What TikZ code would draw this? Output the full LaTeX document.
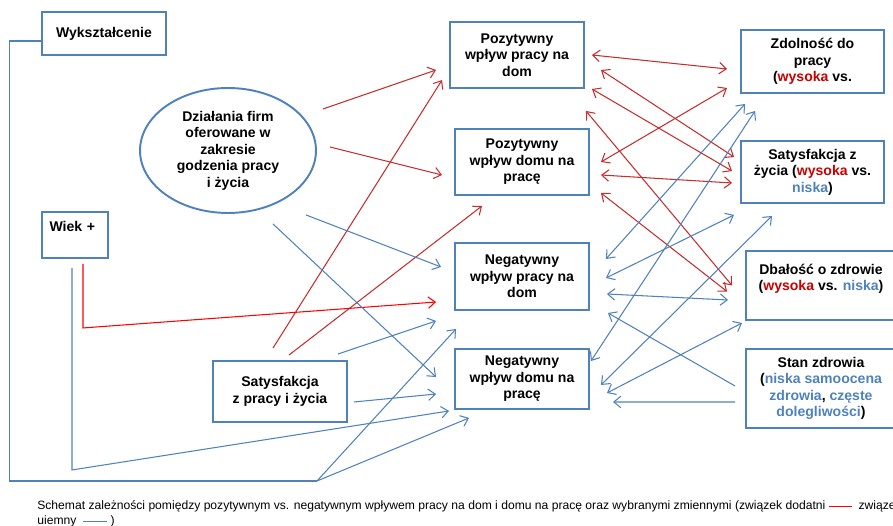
\documentclass[tikz,border=0pt]{standalone}
\usepackage{fontspec}
\setmainfont{Liberation Sans}
\usetikzlibrary{arrows.meta,calc,shapes.geometric}
\definecolor{ramkablue}{RGB}{79,129,189}
\definecolor{liniared}{RGB}{200,45,45}
\definecolor{wiekred}{RGB}{255,0,0}
\definecolor{tekstred}{RGB}{200,0,0}
\newcommand{\czerw}[1]{\textcolor{tekstred}{#1}}
\newcommand{\nieb}[1]{\textcolor{ramkablue}{#1}}
\tikzset{
  >={Straight Barb[length=4pt,width=6.5pt]},
  ramka/.style={draw=ramkablue, line width=1.1pt, align=center, inner sep=2pt,
    font=\fontsize{8}{9.4}\selectfont\bfseries},
  owal/.style={ramka, ellipse, inner sep=0pt},
  dodatni/.style={draw=liniared, line width=0.6pt, ->},
  ujemny/.style={draw=ramkablue, line width=0.6pt, ->},
  podpis/.style={align=left, inner sep=0pt, font=\fontsize{6.9}{8.5}\selectfont}
}

\begin{document}
\begin{tikzpicture}[x=0.02cm, y=-0.02cm]
\useasboundingbox (0,0) rectangle (893,526);
\node[ramka, minimum width=2.48cm, minimum height=0.86cm] (wyk) at (104,33.5) {Wykształcenie};
\node[ramka, minimum width=1.32cm, minimum height=0.92cm, text width=1.02cm, align=left] (wiek) at (75,235) {Wiek +\\~};
\node[owal, minimum width=3.52cm, minimum height=2.5cm] (ell) at (228,150.5) {Działania firm\\oferowane w\\zakresie\\godzenia pracy\\i życia};
\node[ramka, minimum width=2.68cm, minimum height=1.22cm] (sat) at (280,391.5) {Satysfakcja\\z pracy i życia};
\node[ramka, minimum width=2.68cm, minimum height=1.32cm] (ppd) at (517,55) {Pozytywny\\wpływ pracy na\\dom};
\node[ramka, minimum width=2.68cm, minimum height=1.32cm] (pdp) at (522,162) {Pozytywny\\wpływ domu na\\pracę};
\node[ramka, minimum width=2.68cm, minimum height=1.34cm] (npd) at (522,276.5) {Negatywny\\wpływ pracy na\\dom};
\node[ramka, minimum width=2.68cm, minimum height=1.2cm] (ndp) at (522,379) {Negatywny\\wpływ domu na\\pracę};
\node[ramka, minimum width=2.86cm, minimum height=1.26cm] (zd) at (812.5,61.5) {Zdolność do\\pracy\\(\czerw{wysoka} vs.};
\node[ramka, minimum width=2.86cm, minimum height=1.24cm] (sz) at (812.5,172) {Satysfakcja z\\życia (\czerw{wysoka} vs.\\\nieb{niska})};
\node[ramka, minimum width=3cm, minimum height=1.38cm] (dz) at (821,285.5) {Dbałość o zdrowie\\(\czerw{wysoka} vs. \nieb{niska})\\~};
\node[ramka, minimum width=3cm, minimum height=1.58cm] (stz) at (821,388.5) {Stan zdrowia\\(\nieb{niska samoocena}\\\nieb{zdrowia}, \nieb{częste}\\\nieb{dolegliwości})};
\coordinate (wezel) at (317,481);

% zwiazki dodatnie
\draw[dodatni] ($(ell.east)+(6,-41.5)$) -- ($(ppd.west)+(-13,15)$);
\draw[dodatni] ($(ell.east)+(13,-3.5)$) -- ($(pdp.west)+(-12,13)$);
\draw[dodatni] ($(sat.north)+(-7,-12)$) -- ($(ppd.west)+(-7,25)$);
\draw[dodatni] ($(sat.north)+(9,-5)$) -- ($(pdp.south)+(-40,10)$);
\draw[dodatni, draw=wiekred] ($(wiek.south)+(8,5)$) -- ++(0,64) -- ($(npd.west)+(-18,25.5)$);
\draw[dodatni, <->] ($(ppd.east)+(7,0)$) -- ($(zd.west)+(-13,7.5)$);
\draw[dodatni, <->] ($(ppd.east)+(16,15)$) -- ($(sz.west)+(-6,-15)$);
\draw[dodatni, <->] ($(ppd.east)+(7,34)$) -- ($(sz.west)+(-8,-1)$);
\draw[dodatni, <->] ($(ppd.south east)+(1,22)$) -- ($(dz.west)+(-13,0)$);
\draw[dodatni, <->] ($(pdp.east)+(11,31)$) -- ($(dz.west)+(-18,6)$);
\draw[dodatni, <->] ($(pdp.east)+(11,13)$) -- ($(sz.west)+(-8,11)$);
\draw[dodatni, <->] ($(pdp.east)+(11,0)$) -- ($(zd.west)+(-13,26.5)$);

% zwiazki ujemne
\draw[ujemny] ($(ell.south)+(78,1)$) -- ($(npd.west)+(-13,-9.5)$);
\draw[ujemny] ($(ell.south)+(45,10)$) -- ($(ndp.west)+(-18,-2)$);
\draw[ujemny] ($(sat.north east)+(-10,-6)$) -- ($(npd.south west)+(-18,10)$);
\draw[ujemny] ($(sat.east)+(6,10.5)$) -- ($(ndp.west)+(-18,15)$);
\draw[ujemny] ($(wiek.south)+(-3,9)$) -- ++(0,202) -- ($(ndp.south west)+(-5,1)$);
\draw[ujemny, -] ($(wyk.west)+(0,7.5)$) -- ++(-32,0) |- (wezel);
\draw[ujemny] (wezel) -- ($(npd.south west)+(2,18)$);
\draw[ujemny] (wezel) -- ($(ndp.south west)+(15,8)$);
\draw[ujemny, <->] ($(npd.east)+(16,-17.5)$) -- ($(zd.south west)+(5,10)$);
\draw[ujemny, <->] ($(npd.east)+(16,1.5)$) -- ($(sz.south west)+(-6,11)$);
\draw[ujemny, <->] ($(npd.east)+(17,17.5)$) -- ($(dz.west)+(-17,14.5)$);
\draw[ujemny] ($(stz.west)+(-10,-2.5)$) -- ($(npd.south east)+(18,2)$);
\draw[ujemny, <->] ($(ndp.north east)+(1,13)$) -- ($(zd.south west)+(15,17)$);
\draw[ujemny, <->] ($(ndp.east)+(11,6)$) -- ($(sz.south west)+(32,12)$);
\draw[ujemny, <->] ($(ndp.east)+(17,14)$) -- ($(dz.south west)+(-3,2)$);
\draw[ujemny] ($(stz.west)+(-10,13.5)$) -- ($(ndp.east)+(23,23)$);

\node[podpis, anchor=north west] (opis) at (37,500) {Schemat zależności pomiędzy pozytywnym vs. negatywnym wpływem pracy na dom i domu na pracę oraz wybranymi zmiennymi (związek dodatni \textcolor{wiekred}{\rule[0.3ex]{0.46cm}{0.6pt}}\ \ związek\\uiemny \ \textcolor{ramkablue}{\rule[0.3ex]{0.48cm}{0.6pt}} )};
\end{tikzpicture}
\end{document}
